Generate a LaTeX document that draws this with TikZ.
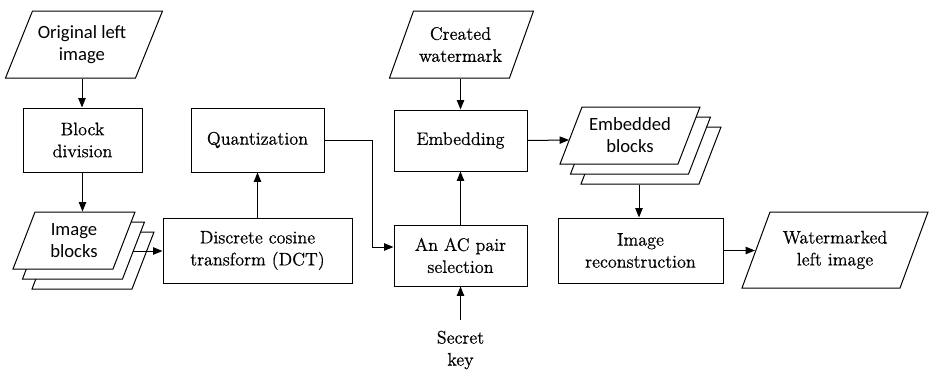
\documentclass[tikz,border=0pt]{standalone}
\usepackage{fontspec}
\newfontfamily\labelsans{Carlito}
\newfontfamily\labelserif{Latin Modern Roman}[FakeBold=0.6]
\usetikzlibrary{arrows.meta}

% parallelogram: centre x, centre y, edge length, height, slant
\newcommand\slantbox[5]{%
  \filldraw[fill=white]
    ({#1-#3/2+#5/2},{#2-#4/2}) -- ({#1+#3/2+#5/2},{#2-#4/2}) --
    ({#1+#3/2-#5/2},{#2+#4/2}) -- ({#1-#3/2-#5/2},{#2+#4/2}) -- cycle;}

\tikzset{
  flow/.style={line width=0.75pt, -{Triangle[length=7pt,width=5.5pt]}},
  procbox/.style={draw, line width=0.75pt, align=center, inner sep=0pt,
    font=\labelserif\fontsize{13.6pt}{16.5pt}\selectfont},
  serlabel/.style={align=center, inner sep=0pt,
    font=\labelserif\fontsize{13.6pt}{16.5pt}\selectfont},
  sanlabel/.style={align=center, inner sep=0pt,
    font=\labelsans\fontsize{14pt}{16.5pt}\selectfont},
}

\begin{document}
\begin{tikzpicture}[x=0.75pt, y=-0.75pt, line width=0.75pt, line join=miter]
\useasboundingbox (0,0) rectangle (929,371);

% slanted data shapes
\slantbox{84}{44.5}{130}{67}{27}
\slantbox{461.5}{44.5}{120}{67}{24}
\slantbox{835}{250}{158}{76}{28}
% stacked image blocks
\slantbox{93}{260.5}{100}{57}{22}
\slantbox{83.5}{250.5}{100}{57}{22}
\slantbox{74}{240.5}{100}{57}{22}
% stacked embedded blocks
\slantbox{651}{155.5}{118}{57}{22}
\slantbox{640.5}{145.5}{118}{57}{22}
\slantbox{630}{135.5}{118}{57}{22}

% labels of the slanted shapes
\node[sanlabel, minimum height=67*0.75pt] (orig) at (82,44.5) {Original left\\image};
\node[sanlabel, minimum height=57*0.75pt] (blocks) at (74,240.5) {Image\\blocks};
\node[serlabel, minimum height=67*0.75pt] (wmark) at (460.5,44.5) {Created\\watermark};
\node[sanlabel, minimum height=57*0.75pt] (eblocks) at (630,135.5) {Embedded\\blocks};
\node[serlabel, minimum height=76*0.75pt] (result) at (835,250) {Watermarked\\left image};
\coordinate (blocksout) at (133,251);
\coordinate (eblocksin) at (569,140);
\coordinate (eblocksout) at (639,185);
\coordinate (resultin) at (755,250.5);
\coordinate (keyout) at (460.5,320);

% process boxes
\node[procbox, minimum width=119*0.75pt, minimum height=64*0.75pt] (division) at (82.5,140) {Block\\division};
\node[procbox, minimum width=133*0.75pt, minimum height=64*0.75pt] (quant) at (257.5,140) {Quantization};
\node[procbox, minimum width=189*0.75pt, minimum height=65*0.75pt] (dct) at (257.5,250.5) {Discrete cosine\\transform (DCT)};
\node[procbox, minimum width=133*0.75pt, minimum height=61*0.75pt] (embed) at (460.5,140.5) {Embedding};
\node[procbox, minimum width=133*0.75pt, minimum height=61*0.75pt] (acpair) at (460.5,255.5) {An AC pair\\selection};
\node[procbox, minimum width=165*0.75pt, minimum height=65*0.75pt] (recon) at (640.5,250.5) {Image\\reconstruction};
\node[serlabel] (key) at (460.5,350) {Secret\\key};

% connectors
\draw[flow] (orig.south) -- (orig.south |- division.north);
\draw[flow] (division.south) -- (division.south |- blocks.north);
\draw[flow] (blocksout) -- (blocksout -| dct.west);
\draw[flow] (dct.north) -- (quant.south);
\draw[flow] (quant.east) -- (372,140) -- (372,247) -- (acpair.west |- 0,247);
\draw[flow] (acpair.north) -- (embed.south);
\draw[flow] (wmark.south -| embed.north) -- (embed.north);
\draw[flow] (keyout) -- (acpair.south);
\draw[flow] (embed.east) -- (eblocksin);
\draw[flow] (eblocksout) -- (eblocksout |- recon.north);
\draw[flow] (recon.east) -- (resultin);
\end{tikzpicture}
\end{document}
